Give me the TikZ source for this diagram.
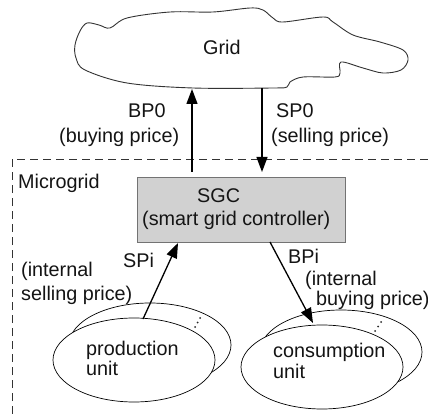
\documentclass[tikz,border=0pt]{standalone}
\usepackage{fontspec}
\setmainfont{Liberation Sans}
\usetikzlibrary{arrows.meta,shapes.geometric}
\begin{document}
\begin{tikzpicture}[x=1pt,y=-1pt,
  txt/.style={anchor=base west,inner sep=0pt,font=\fontsize{19.8}{23}\selectfont,text=black!92},
  arr/.style={line width=1.3pt,-{Triangle[length=15pt,width=11pt]}},
  unitell/.style={draw,ellipse,line width=0.7pt,fill=white,minimum width=162pt,minimum height=84pt,inner sep=0pt},
  dotc/.style={fill=black!85,circle,inner sep=0pt,minimum size=2pt}]
\useasboundingbox (0,0) rectangle (428,414);
% cloud
\draw[line width=0.9pt,black!80] plot[smooth cycle,tension=0.55] coordinates {
 (75,45) (80,31) (87,23) (99,25) (110,28) (127,18) (170,12) (213,12) (250,8)
 (263,10) (273,18) (283,22) (323,17) (333,22) (353,35) (380,42) (403,50)
 (408,60) (401,70) (383,73) (363,68) (341,62) (340,73) (335,77) (303,77)
 (290,82) (287,87) (273,88) (193,88) (127,83) (85,70) (76,58)};
\node[txt] (grid) at (203,55) {Grid};
% microgrid boundary
\draw[line width=0.7pt,dash pattern=on 8pt off 5pt,black!80] (12,414) -- (12,159) -- (428,159);
\node[txt] (mg) at (18,189) {Microgrid};
% SGC
\node[draw=black!55,fill=black!18,line width=0.9pt,minimum width=208pt,minimum height=65pt,inner sep=0pt] (sgc) at (241,209.5) {};
\node[txt] (sgct) at (197,203) {SGC};
\node[txt] (sgcl) at (142,225) {(smart grid controller)};
% grid arrows
\coordinate (bp0s) at (192,172);
\coordinate (bp0e) at (192,89);
\coordinate (sp0s) at (262,88);
\coordinate (sp0e) at (262,172);
\draw[arr] (bp0s) -- (bp0e);
\draw[arr] (sp0s) -- (sp0e);
\node[txt] (bp0) at (128,118) {BP0};
\node[txt] (bp0l) at (59,143) {(buying price)};
\node[txt] (sp0) at (276,118) {SP0};
\node[txt] (sp0l) at (271,143) {(selling price)};
% production units
\node[unitell] (prodb) at (150,345) {};
\node[unitell] (prod) at (134,360) {};
\node[dotc] (pd1) at (195,327) {};
\node[dotc] (pd2) at (197.5,322.5) {};
\node[dotc] (pd3) at (200,318) {};
\node[txt] (prodt1) at (86,355) {production};
\node[txt] (prodt2) at (86,375) {unit};
% consumption units
\node[unitell] (consb) at (341,352) {};
\node[unitell] (cons) at (322,367) {};
\node[dotc] (cd1) at (375,331) {};
\node[dotc] (cd2) at (378,326.5) {};
\node[dotc] (cd3) at (381,322) {};
\node[txt] (const1) at (273,357) {consumption};
\node[txt] (const2) at (273,378) {unit};
% internal arrows
\coordinate (spis) at (143,319);
\coordinate (spie) at (178,243);
\coordinate (bpis) at (270,242);
\coordinate (bpie) at (313,323);
\draw[arr] (spis) -- (spie);
\draw[arr] (bpis) -- (bpie);
\node[txt] (spi) at (123,267) {SPi};
\node[txt] (spil1) at (21,276) {(internal};
\node[txt] (spil2) at (21,300) {selling price)};
\node[txt] (bpi) at (288,263) {BPi};
\node[txt] (bpil1) at (305,285) {(internal};
\node[txt] (bpil2) at (316,305) {buying price)};
\end{tikzpicture}
\end{document}
